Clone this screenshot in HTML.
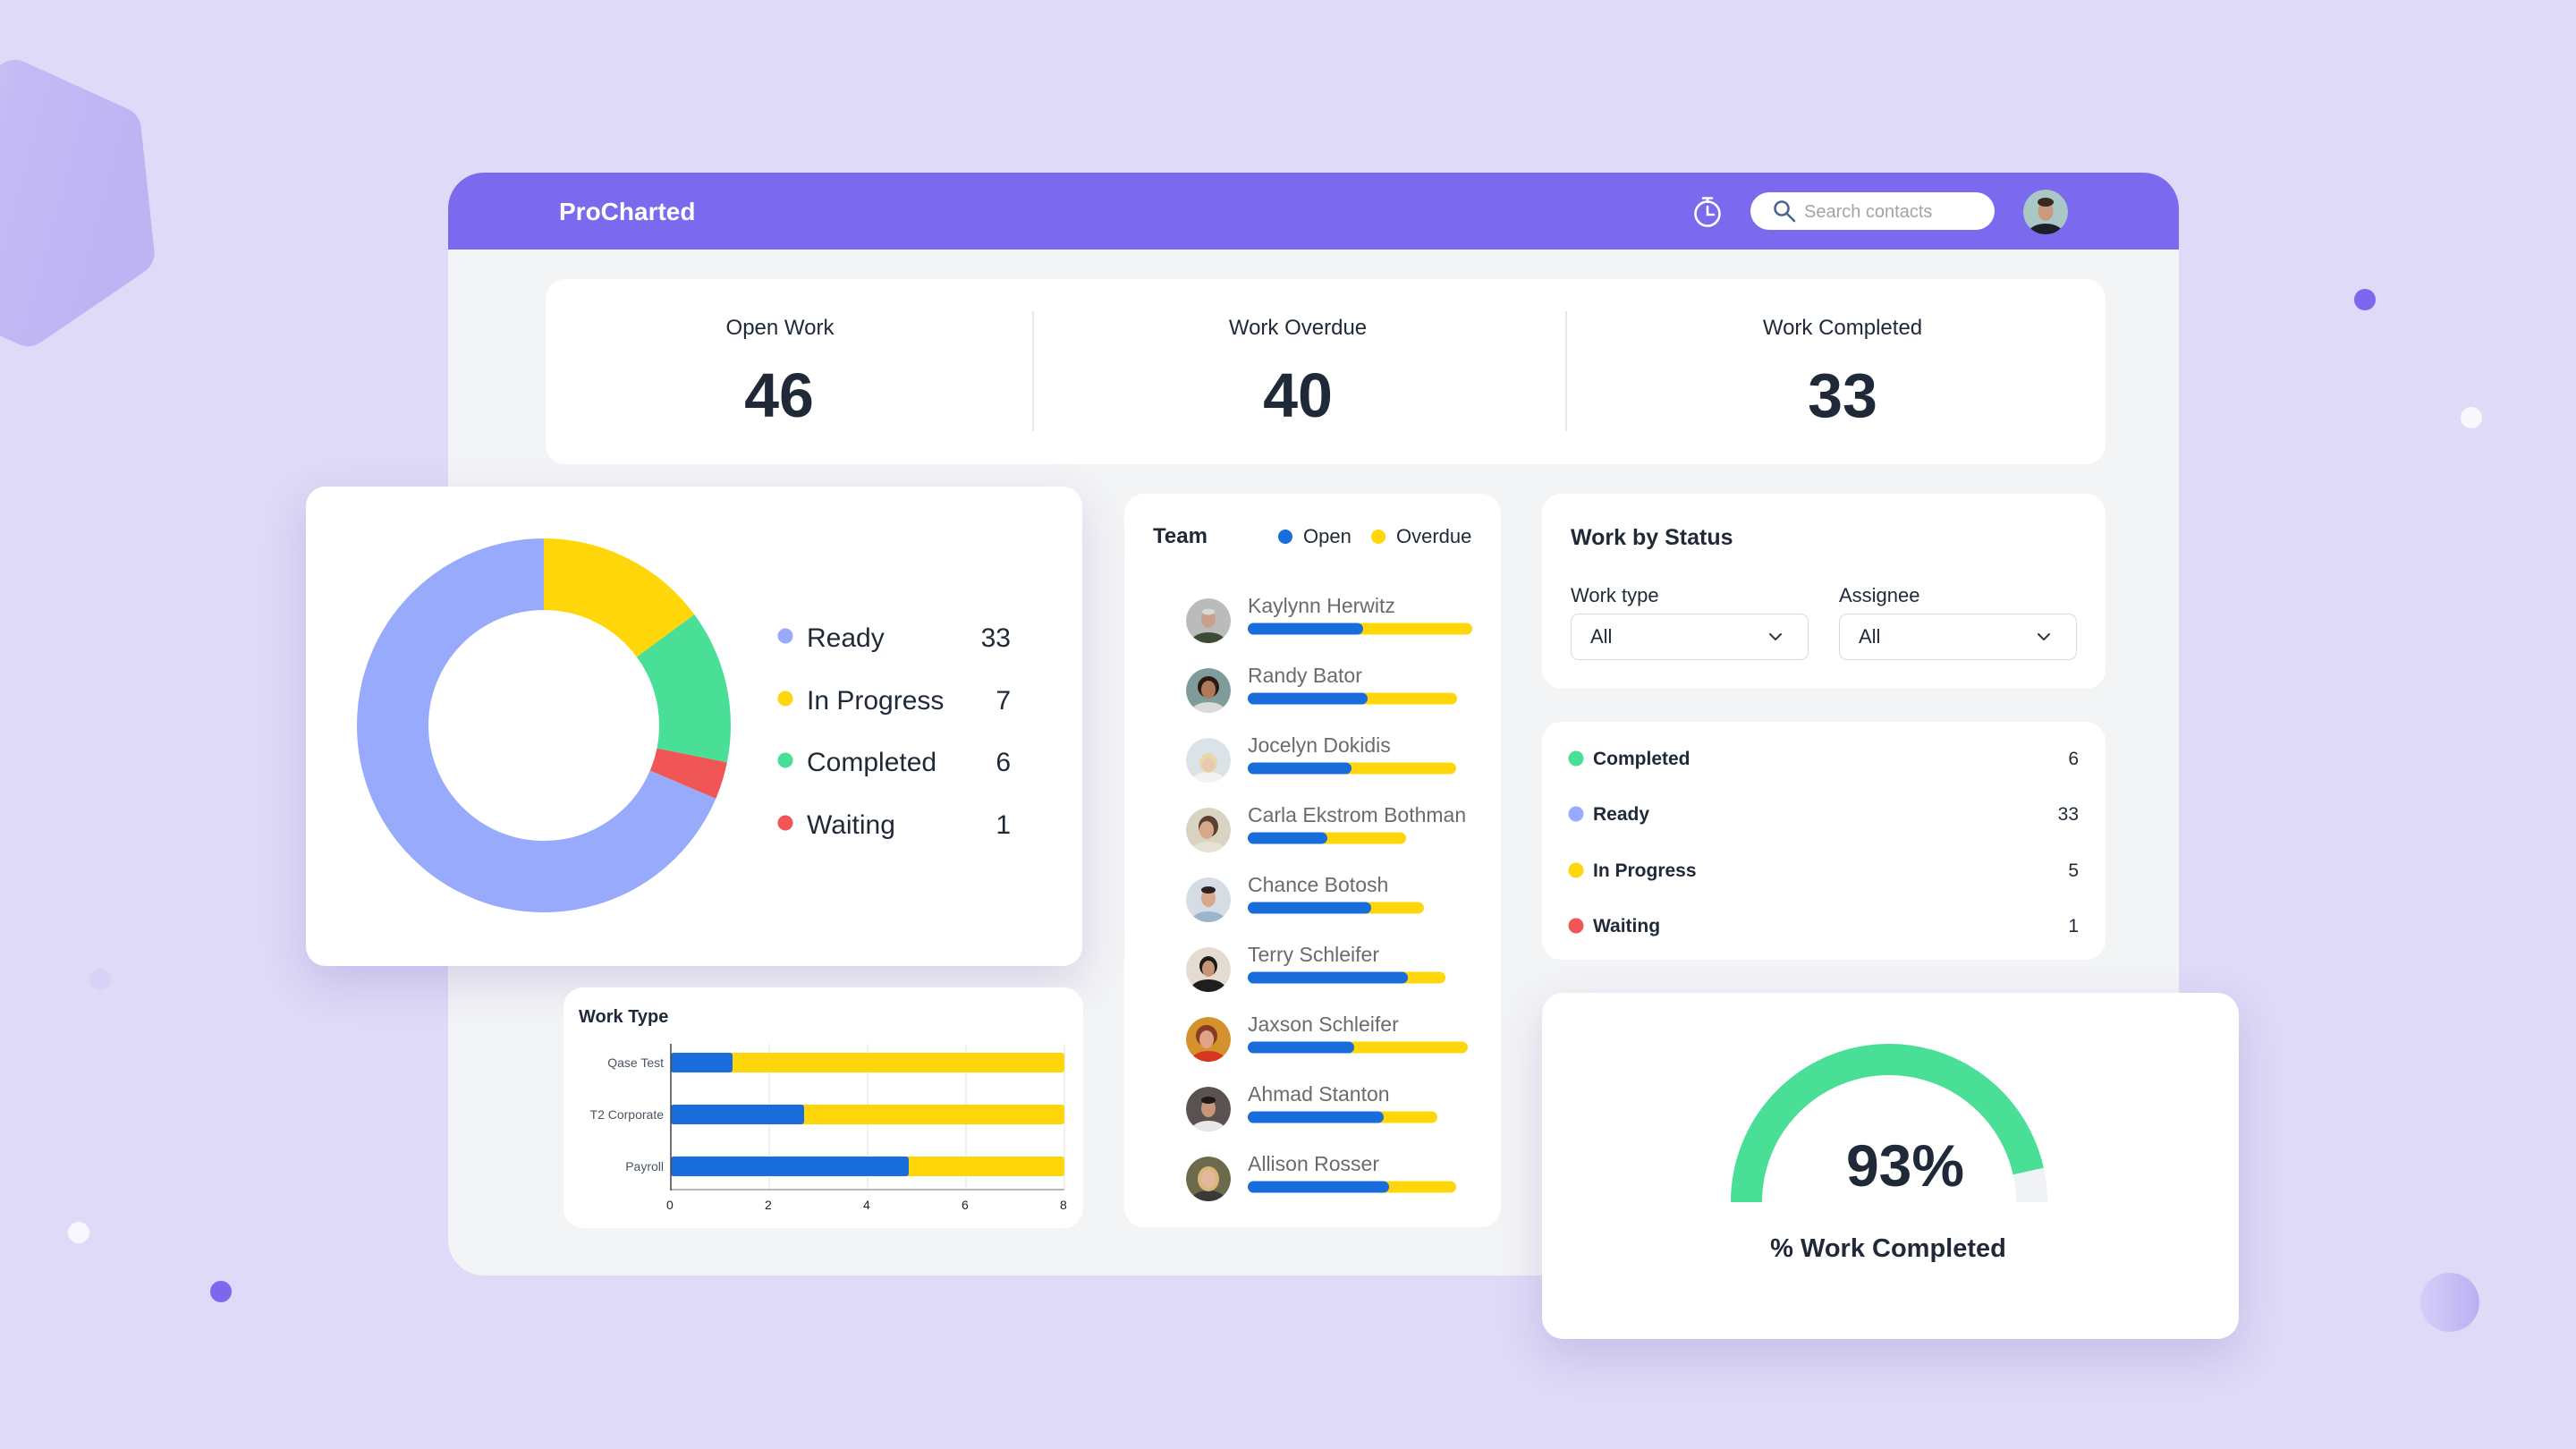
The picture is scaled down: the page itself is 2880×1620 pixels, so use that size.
<!DOCTYPE html>
<html>
<head>
<meta charset="utf-8">
<style>
  html,body{margin:0;padding:0;}
  body{width:2880px;height:1620px;position:relative;overflow:hidden;background:#DFDAF7;font-family:"Liberation Sans",sans-serif;}
  .abs{position:absolute;}
  .card{position:absolute;background:#fff;border-radius:22px;}
  .t{position:absolute;white-space:nowrap;line-height:1;color:#1F2937;}
  .c{text-align:center;width:1000px;}
  .r{text-align:right;width:600px;}
  .b{font-weight:bold;}
  svg{position:absolute;left:0;top:0;}
</style>
</head>
<body>

<!-- background decorations -->
<svg width="2880" height="1620" viewBox="0 0 2880 1620">
  <defs>
    <linearGradient id="hexg" x1="0" y1="0" x2="1" y2="0.3">
      <stop offset="0" stop-color="#D8D1F8"/>
      <stop offset="0.45" stop-color="#C3BAF5"/>
      <stop offset="1" stop-color="#BEB4F4"/>
    </linearGradient>
    <linearGradient id="cg" x1="0" y1="0" x2="1" y2="0">
      <stop offset="0" stop-color="#D6CEF8"/>
      <stop offset="1" stop-color="#BBAFF4"/>
    </linearGradient>
  </defs>
  <polygon points="16.6,91.9 132.8,144.6 147.6,283 31.4,362.1 -84.8,309.4 -99.6,171" fill="url(#hexg)" stroke="url(#hexg)" stroke-width="50" stroke-linejoin="round"/>
  <circle cx="112" cy="1095" r="12" fill="#D8D2F6"/>
  <circle cx="88" cy="1378" r="12" fill="#F8F7FD"/>
  <circle cx="247" cy="1444" r="12" fill="#7B68EE"/>
  <circle cx="2644" cy="335" r="12" fill="#7B68EE"/>
  <circle cx="2763" cy="467" r="12" fill="#F8F7FD"/>
  <circle cx="2739" cy="1456" r="33" fill="url(#cg)"/>
</svg>

<!-- main panel -->
<div class="abs" style="left:501px;top:193px;width:1935px;height:1233px;border-radius:40px;background:#F3F4F6;overflow:hidden;">
  <div class="abs" style="left:0;top:0;width:1935px;height:86px;background:#7B69EE;"></div>
</div>

<!-- search box -->
<div class="abs" style="left:1957px;top:215px;width:273px;height:42px;border-radius:21px;background:#fff;"></div>

<!-- cards -->
<div class="card" style="left:610px;top:312px;width:1744px;height:207px;"></div>
<div class="abs" style="left:1154px;top:348px;width:2px;height:134px;background:#E5E7EB;"></div>
<div class="abs" style="left:1750px;top:348px;width:2px;height:134px;background:#E5E7EB;"></div>

<div class="card" style="left:342px;top:544px;width:868px;height:536px;box-shadow:0 18px 50px rgba(80,60,160,0.18);"></div>
<div class="card" style="left:630px;top:1104px;width:581px;height:269px;"></div>
<div class="card" style="left:1257px;top:552px;width:421px;height:820px;"></div>
<div class="card" style="left:1724px;top:552px;width:630px;height:218px;"></div>
<div class="card" style="left:1724px;top:807px;width:630px;height:266px;"></div>
<div class="card" style="left:1724px;top:1110px;width:779px;height:387px;border-radius:24px;box-shadow:0 18px 50px rgba(80,60,160,0.18);"></div>

<!-- selects -->
<div class="abs" style="left:1756px;top:686px;width:266px;height:52px;box-sizing:border-box;border:1.5px solid #D9DBDF;border-radius:9px;background:#fff;"></div>
<div class="abs" style="left:2056px;top:686px;width:266px;height:52px;box-sizing:border-box;border:1.5px solid #D9DBDF;border-radius:9px;background:#fff;"></div>

<!-- graphics overlay -->
<svg width="2880" height="1620" viewBox="0 0 2880 1620">
  <defs>
    <clipPath id="av0"><circle cx="1351" cy="694" r="25"/></clipPath>
    <clipPath id="av1"><circle cx="1351" cy="772" r="25"/></clipPath>
    <clipPath id="av2"><circle cx="1351" cy="850" r="25"/></clipPath>
    <clipPath id="av3"><circle cx="1351" cy="928" r="25"/></clipPath>
    <clipPath id="av4"><circle cx="1351" cy="1006" r="25"/></clipPath>
    <clipPath id="av5"><circle cx="1351" cy="1084" r="25"/></clipPath>
    <clipPath id="av6"><circle cx="1351" cy="1162" r="25"/></clipPath>
    <clipPath id="av7"><circle cx="1351" cy="1240" r="25"/></clipPath>
    <clipPath id="av8"><circle cx="1351" cy="1318" r="25"/></clipPath>
    <clipPath id="avh"><circle cx="2287" cy="237" r="25"/></clipPath>
  </defs>

  <!-- header icons -->
  <g fill="none" stroke="#fff" stroke-width="2.6" stroke-linecap="round">
    <circle cx="1909" cy="239" r="13.5"/>
    <line x1="1909" y1="222" x2="1909" y2="225.5"/>
    <line x1="1904" y1="221.5" x2="1914" y2="221.5"/>
    <polyline points="1909,231 1909,240 1916,240"/>
  </g>
  <g fill="none" stroke="#4B6590" stroke-width="2.6" stroke-linecap="round">
    <circle cx="1992" cy="233" r="7.5"/>
    <line x1="1997.5" y1="238.5" x2="2006" y2="247"/>
  </g>
  <g clip-path="url(#avh)">
    <circle cx="2287" cy="237" r="25" fill="#A9C7C5"/>
    <ellipse cx="2287" cy="262" rx="20" ry="12" fill="#1E1E28"/>
    <ellipse cx="2287" cy="236" rx="8.5" ry="11" fill="#C99A80"/>
    <ellipse cx="2287" cy="226" rx="9" ry="5" fill="#3A2A20"/>
  </g>

  <!-- donut -->
  <g fill="none" stroke-width="80" transform="rotate(-90 608 811)">
    <circle cx="608" cy="811" r="169" stroke="#97AAFC" stroke-dasharray="729 1062" stroke-dashoffset="-333.3"/>
    <circle cx="608" cy="811" r="169" stroke="#FFD60A" stroke-dasharray="158.1 1062" stroke-dashoffset="0"/>
    <circle cx="608" cy="811" r="169" stroke="#4ADF96" stroke-dasharray="141 1062" stroke-dashoffset="-158.1"/>
    <circle cx="608" cy="811" r="169" stroke="#F05656" stroke-dasharray="34.2 1062" stroke-dashoffset="-299.1"/>
  </g>
  <circle cx="878" cy="711" r="8.5" fill="#97AAFC"/>
  <circle cx="878" cy="781" r="8.5" fill="#FFD60A"/>
  <circle cx="878" cy="850" r="8.5" fill="#4ADF96"/>
  <circle cx="878" cy="920" r="8.5" fill="#F05656"/>

  <!-- work type chart -->
  <g stroke="#E5E7EB" stroke-width="1.2">
    <line x1="860" y1="1167" x2="860" y2="1330"/>
    <line x1="970" y1="1167" x2="970" y2="1330"/>
    <line x1="1080" y1="1167" x2="1080" y2="1330"/>
    <line x1="1190" y1="1167" x2="1190" y2="1330"/>
  </g>
  <rect x="750" y="1177" width="440" height="22" rx="3" fill="#FFD60A"/>
  <rect x="750" y="1235" width="440" height="22" rx="3" fill="#FFD60A"/>
  <rect x="750" y="1293" width="440" height="22" rx="3" fill="#FFD60A"/>
  <rect x="750" y="1177" width="69" height="22" rx="3" fill="#186CDB"/>
  <rect x="750" y="1235" width="149" height="22" rx="3" fill="#186CDB"/>
  <rect x="750" y="1293" width="266" height="22" rx="3" fill="#186CDB"/>
  <line x1="750" y1="1330" x2="1190" y2="1330" stroke="#9CA0A8" stroke-width="1.5"/>
  <line x1="750" y1="1167" x2="750" y2="1331" stroke="#444" stroke-width="1.5"/>

  <!-- team legend -->
  <circle cx="1437" cy="600" r="8" fill="#186CDB"/>
  <circle cx="1541" cy="600" r="8" fill="#FFD60A"/>

  <!-- team bars -->
  <g>
    <rect x="1395" y="696.5" width="251" height="13" rx="6.5" fill="#FFD60A"/>
    <rect x="1395" y="696.5" width="129" height="13" rx="6.5" fill="#186CDB"/>
    <rect x="1395" y="774.5" width="234" height="13" rx="6.5" fill="#FFD60A"/>
    <rect x="1395" y="774.5" width="134" height="13" rx="6.5" fill="#186CDB"/>
    <rect x="1395" y="852.5" width="233" height="13" rx="6.5" fill="#FFD60A"/>
    <rect x="1395" y="852.5" width="116" height="13" rx="6.5" fill="#186CDB"/>
    <rect x="1395" y="930.5" width="177" height="13" rx="6.5" fill="#FFD60A"/>
    <rect x="1395" y="930.5" width="89" height="13" rx="6.5" fill="#186CDB"/>
    <rect x="1395" y="1008.5" width="197" height="13" rx="6.5" fill="#FFD60A"/>
    <rect x="1395" y="1008.5" width="138" height="13" rx="6.5" fill="#186CDB"/>
    <rect x="1395" y="1086.5" width="221" height="13" rx="6.5" fill="#FFD60A"/>
    <rect x="1395" y="1086.5" width="179" height="13" rx="6.5" fill="#186CDB"/>
    <rect x="1395" y="1164.5" width="246" height="13" rx="6.5" fill="#FFD60A"/>
    <rect x="1395" y="1164.5" width="119" height="13" rx="6.5" fill="#186CDB"/>
    <rect x="1395" y="1242.5" width="212" height="13" rx="6.5" fill="#FFD60A"/>
    <rect x="1395" y="1242.5" width="152" height="13" rx="6.5" fill="#186CDB"/>
    <rect x="1395" y="1320.5" width="233" height="13" rx="6.5" fill="#FFD60A"/>
    <rect x="1395" y="1320.5" width="158" height="13" rx="6.5" fill="#186CDB"/>
  </g>

  <!-- team avatars -->
  <g clip-path="url(#av0)"><circle cx="1351" cy="694" r="25" fill="#B9BCBB"/><ellipse cx="1351" cy="719" rx="20" ry="12" fill="#3D4A35"/><ellipse cx="1351" cy="692" rx="8" ry="10" fill="#C9A08A"/><ellipse cx="1351" cy="684" rx="7" ry="3.5" fill="#D8D8D8"/></g>
  <g clip-path="url(#av1)"><circle cx="1351" cy="772" r="25" fill="#7F9C9A"/><ellipse cx="1351" cy="797" rx="20" ry="12" fill="#DADADA"/><ellipse cx="1351" cy="768" rx="12" ry="12" fill="#2A1A12"/><ellipse cx="1351" cy="771" rx="8" ry="10" fill="#B07A5A"/></g>
  <g clip-path="url(#av2)"><circle cx="1351" cy="850" r="25" fill="#DCE3E8"/><ellipse cx="1351" cy="875" rx="20" ry="12" fill="#F2F2F2"/><ellipse cx="1351" cy="853" rx="10" ry="11" fill="#E8D7A8"/><ellipse cx="1351" cy="855" rx="7" ry="8" fill="#E8C9B0"/></g>
  <g clip-path="url(#av3)"><circle cx="1351" cy="928" r="25" fill="#D9D4C2"/><ellipse cx="1351" cy="953" rx="20" ry="12" fill="#E6E2D6"/><ellipse cx="1351" cy="924" rx="11" ry="12" fill="#5A4030"/><ellipse cx="1349" cy="928" rx="8" ry="10" fill="#D6A88A"/></g>
  <g clip-path="url(#av4)"><circle cx="1351" cy="1006" r="25" fill="#D5DCE3"/><ellipse cx="1351" cy="1031" rx="20" ry="12" fill="#9EB3CC"/><ellipse cx="1351" cy="1004" rx="8" ry="10" fill="#D8A88C"/><ellipse cx="1351" cy="995" rx="8" ry="4" fill="#2A2222"/></g>
  <g clip-path="url(#av5)"><circle cx="1351" cy="1084" r="25" fill="#E4DCD0"/><ellipse cx="1351" cy="1107" rx="20" ry="12" fill="#1E1E1E"/><ellipse cx="1351" cy="1080" rx="10" ry="11" fill="#1E1A18"/><ellipse cx="1351" cy="1083" rx="7" ry="9" fill="#C89478"/></g>
  <g clip-path="url(#av6)"><circle cx="1351" cy="1162" r="25" fill="#D4922E"/><ellipse cx="1351" cy="1187" rx="20" ry="12" fill="#D8351E"/><ellipse cx="1349" cy="1158" rx="12" ry="12" fill="#8A3A20"/><ellipse cx="1349" cy="1162" rx="8" ry="10" fill="#E0A486"/></g>
  <g clip-path="url(#av7)"><circle cx="1351" cy="1240" r="25" fill="#5A5250"/><ellipse cx="1351" cy="1265" rx="20" ry="12" fill="#E8E8E8"/><ellipse cx="1351" cy="1239" rx="8" ry="10" fill="#C9967A"/><ellipse cx="1351" cy="1230" rx="8" ry="4" fill="#1C1A1A"/></g>
  <g clip-path="url(#av8)"><circle cx="1351" cy="1318" r="25" fill="#6B6A4A"/><ellipse cx="1351" cy="1343" rx="20" ry="12" fill="#3A3A3A"/><ellipse cx="1351" cy="1318" rx="12" ry="14" fill="#D9B77A"/><ellipse cx="1351" cy="1318" rx="8" ry="10" fill="#E3B89A"/></g>

  <!-- chevrons -->
  <polyline points="1979,709 1985,715 1991,709" fill="none" stroke="#333" stroke-width="2" stroke-linecap="round" stroke-linejoin="round"/>
  <polyline points="2279,709 2285,715 2291,709" fill="none" stroke="#333" stroke-width="2" stroke-linecap="round" stroke-linejoin="round"/>

  <!-- status dots -->
  <circle cx="1762" cy="848" r="8.5" fill="#4ADF96"/>
  <circle cx="1762" cy="910" r="8.5" fill="#97AAFC"/>
  <circle cx="1762" cy="973" r="8.5" fill="#FFD60A"/>
  <circle cx="1762" cy="1035" r="8.5" fill="#F05656"/>

  <!-- gauge -->
  <path d="M 1952.5 1344 A 159.5 159.5 0 0 1 2271.5 1344" fill="none" stroke="#F1F2F6" stroke-width="35"/>
  <path d="M 1952.5 1344 A 159.5 159.5 0 0 1 2271.5 1344" fill="none" stroke="#4ADF96" stroke-width="35" stroke-dasharray="466 1000"/>
</svg>

<!-- text -->
<div class="t b" style="left:625px;top:223px;font-size:28px;color:#fff;">ProCharted</div>
<div class="t" style="left:2017px;top:227px;font-size:20px;color:#A0A4AB;">Search contacts</div>

<div class="t c" style="left:372px;top:355px;font-size:24px;">Open Work</div>
<div class="t c" style="left:951px;top:355px;font-size:24px;">Work Overdue</div>
<div class="t c" style="left:1560px;top:355px;font-size:24px;">Work Completed</div>
<div class="t c b" style="left:371px;top:407px;font-size:70px;">46</div>
<div class="t c b" style="left:951px;top:407px;font-size:70px;">40</div>
<div class="t c b" style="left:1560px;top:407px;font-size:70px;">33</div>

<div class="t" style="left:902px;top:699px;font-size:30px;">Ready</div>
<div class="t" style="left:902px;top:769px;font-size:30px;">In Progress</div>
<div class="t" style="left:902px;top:838px;font-size:30px;">Completed</div>
<div class="t" style="left:902px;top:908px;font-size:30px;">Waiting</div>
<div class="t r" style="left:530px;top:699px;font-size:30px;">33</div>
<div class="t r" style="left:530px;top:769px;font-size:30px;">7</div>
<div class="t r" style="left:530px;top:838px;font-size:30px;">6</div>
<div class="t r" style="left:530px;top:908px;font-size:30px;">1</div>

<div class="t b" style="left:647px;top:1127px;font-size:20px;">Work Type</div>
<div class="t r" style="left:142px;top:1181px;font-size:14px;color:#4B5563;">Qase Test</div>
<div class="t r" style="left:142px;top:1239px;font-size:14px;color:#4B5563;">T2 Corporate</div>
<div class="t r" style="left:142px;top:1297px;font-size:14px;color:#4B5563;">Payroll</div>
<div class="t" style="left:745px;top:1340px;font-size:14px;color:#222;">0</div>
<div class="t" style="left:855px;top:1340px;font-size:14px;color:#222;">2</div>
<div class="t" style="left:965px;top:1340px;font-size:14px;color:#222;">4</div>
<div class="t" style="left:1075px;top:1340px;font-size:14px;color:#222;">6</div>
<div class="t" style="left:1185px;top:1340px;font-size:14px;color:#222;">8</div>

<div class="t b" style="left:1289px;top:588px;font-size:24px;">Team</div>
<div class="t" style="left:1457px;top:589px;font-size:22px;">Open</div>
<div class="t" style="left:1561px;top:589px;font-size:22px;">Overdue</div>
<div class="t" style="left:1395px;top:666px;font-size:23px;color:#6B6B6B;">Kaylynn Herwitz</div>
<div class="t" style="left:1395px;top:744px;font-size:23px;color:#6B6B6B;">Randy Bator</div>
<div class="t" style="left:1395px;top:822px;font-size:23px;color:#6B6B6B;">Jocelyn Dokidis</div>
<div class="t" style="left:1395px;top:900px;font-size:23px;color:#6B6B6B;">Carla Ekstrom Bothman</div>
<div class="t" style="left:1395px;top:978px;font-size:23px;color:#6B6B6B;">Chance Botosh</div>
<div class="t" style="left:1395px;top:1056px;font-size:23px;color:#6B6B6B;">Terry Schleifer</div>
<div class="t" style="left:1395px;top:1134px;font-size:23px;color:#6B6B6B;">Jaxson Schleifer</div>
<div class="t" style="left:1395px;top:1212px;font-size:23px;color:#6B6B6B;">Ahmad Stanton</div>
<div class="t" style="left:1395px;top:1290px;font-size:23px;color:#6B6B6B;">Allison Rosser</div>

<div class="t b" style="left:1756px;top:589px;font-size:25px;">Work by Status</div>
<div class="t" style="left:1756px;top:655px;font-size:22px;">Work type</div>
<div class="t" style="left:2056px;top:655px;font-size:22px;">Assignee</div>
<div class="t" style="left:1778px;top:701px;font-size:22px;">All</div>
<div class="t" style="left:2078px;top:701px;font-size:22px;">All</div>

<div class="t b" style="left:1781px;top:837.5px;font-size:21px;">Completed</div>
<div class="t b" style="left:1781px;top:899.5px;font-size:21px;">Ready</div>
<div class="t b" style="left:1781px;top:962.5px;font-size:21px;">In Progress</div>
<div class="t b" style="left:1781px;top:1024.5px;font-size:21px;">Waiting</div>
<div class="t r" style="left:1724px;top:837.5px;font-size:21px;">6</div>
<div class="t r" style="left:1724px;top:899.5px;font-size:21px;">33</div>
<div class="t r" style="left:1724px;top:962.5px;font-size:21px;">5</div>
<div class="t r" style="left:1724px;top:1024.5px;font-size:21px;">1</div>

<div class="t c b" style="left:1630px;top:1270px;font-size:66px;">93%</div>
<div class="t c b" style="left:1611px;top:1381.5px;font-size:29px;">% Work Completed</div>

</body>
</html>
